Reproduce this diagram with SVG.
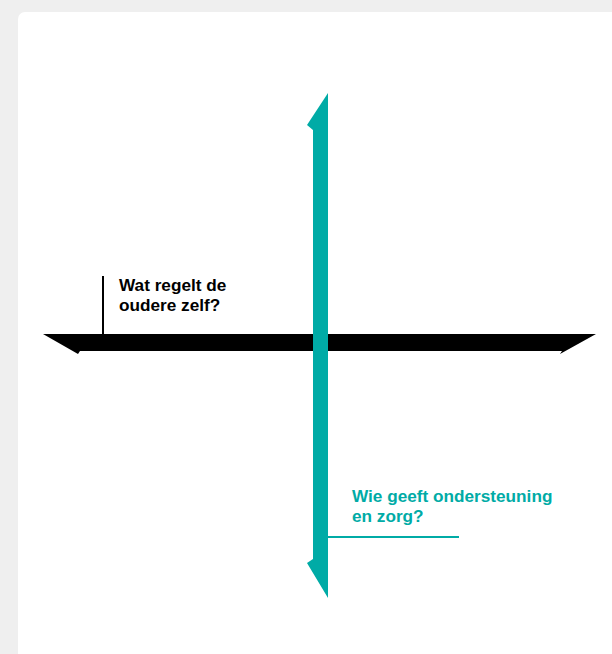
<svg xmlns="http://www.w3.org/2000/svg" width="612" height="654" viewBox="0 0 612 654">
<style>
.lbl{font-family:"Liberation Sans",Arial,sans-serif;font-weight:bold;font-size:17.2px}
.teal{fill:#00aba6}
</style>
<rect x="0" y="0" width="612" height="654" fill="#efefef"/>
<rect x="18" y="12" width="620" height="680" rx="7" fill="#ffffff"/>
<g id="connectors">
<path id="h-axis" d="M43,334 L596,334 L560,354 L562,351 L80,351 L78,354 Z" fill="#000000"/>
<path id="v-axis" class="teal" d="M328,93 L328,598 L307,563 L313,559 L313,130 L307,125 Z"/>
<line x1="103" y1="276" x2="103" y2="334" stroke="#000000" stroke-width="2"/>
<line x1="328" y1="537" x2="459" y2="537" stroke="#00aba6" stroke-width="2"/>
</g>
<g id="label-self">
<text class="lbl" x="119" y="291" fill="#000000">Wat regelt de</text>
<text class="lbl" x="119" y="311" fill="#000000">oudere zelf?</text>
</g>
<g id="label-support">
<text class="lbl teal" x="352" y="502">Wie geeft ondersteuning</text>
<text class="lbl teal" x="352" y="522">en zorg?</text>
</g>
</svg>
